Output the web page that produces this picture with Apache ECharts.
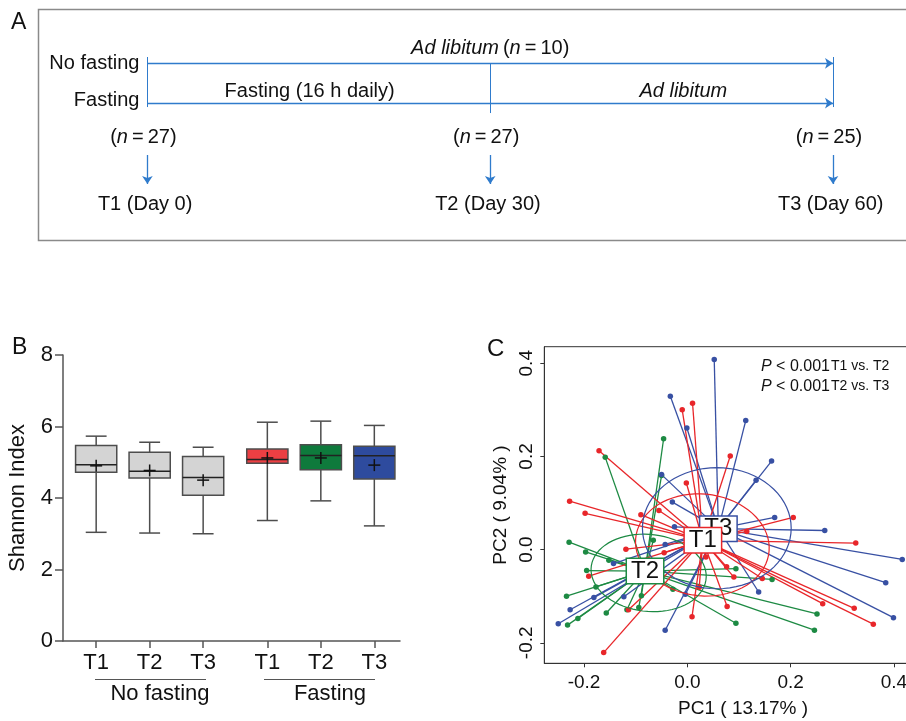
<!DOCTYPE html>
<html>
<head>
<meta charset="utf-8">
<script src="https://cdn.jsdelivr.net/npm/echarts@6/dist/echarts.min.js"></script>
<style>
html, body { margin: 0; padding: 0; background: #fff; }
#chart { width: 906px; height: 721px; }
</style>
</head>
<body>
<div id="chart"></div>
<script>
// panel A - study design timeline
const days = [0, 30, 60]
const timeLabels = ['T1 (Day 0)', 'T2 (Day 30)', 'T3 (Day 60)']
const sampleSizes = [27, 27, 25]
const noFastingN = 10

// panel B - Shannon index per group / timepoint
const boxTimes = ['T1', 'T2', 'T3', 'T1', 'T2', 'T3']
const boxX = [1, 2, 3, 4.2, 5.2, 6.2]
const shannonMin = [3.04, 3.02, 3.00, 3.37, 3.92, 3.22]
const shannonQ1 = [4.72, 4.56, 4.08, 4.97, 4.79, 4.53]
const shannonMedian = [4.93, 4.75, 4.57, 5.08, 5.19, 5.18]
const shannonQ3 = [5.47, 5.28, 5.16, 5.37, 5.49, 5.45]
const shannonMax = [5.73, 5.56, 5.42, 6.12, 6.15, 6.03]
const shannonMean = [4.90, 4.77, 4.50, 5.12, 5.12, 4.92]
const boxColors = ['#d4d4d4', '#d4d4d4', '#d4d4d4', '#ec3f43', '#0e7a3c', '#2e4b9e']

// panel C - PCA (PC1, PC2) per timepoint
const pcaT1 = [
  [0.010, 0.314], [-0.010, 0.300], [-0.171, 0.212], [0.083, 0.201], [-0.002, 0.143],
  [-0.228, 0.104], [-0.198, 0.078], [-0.090, 0.075], [-0.055, 0.084], [0.205, 0.069],
  [0.115, 0.039], [0.326, 0.014], [-0.119, 0.001], [-0.045, -0.007], [-0.191, -0.057],
  [0.090, -0.059], [0.076, -0.037], [0.023, -0.081], [0.077, -0.122], [0.009, -0.144],
  [0.262, -0.116], [0.323, -0.126], [0.360, -0.160], [-0.162, -0.221], [-0.114, -0.129],
  [0.145, -0.062], [0.036, -0.016]
]
const pcaT2 = [
  [-0.046, 0.238], [-0.159, 0.198], [-0.050, 0.159], [-0.229, 0.016], [-0.197, -0.005],
  [-0.152, -0.023], [-0.195, -0.045], [-0.177, -0.080], [-0.234, -0.100], [-0.157, -0.136],
  [-0.212, -0.148], [-0.232, -0.162], [-0.117, -0.129], [-0.094, -0.124], [-0.089, -0.099],
  [-0.028, -0.085], [0.094, -0.041], [0.164, -0.064], [0.251, -0.138], [0.246, -0.173],
  [0.094, -0.158], [-0.066, 0.020]
]
const pcaT3 = [
  [0.052, 0.408], [-0.033, 0.329], [-0.001, 0.261], [0.113, 0.277], [0.163, 0.190],
  [0.133, 0.149], [-0.050, 0.161], [-0.029, 0.102], [-0.025, 0.049], [0.169, 0.069],
  [0.266, 0.041], [0.416, -0.021], [0.384, -0.071], [0.399, -0.146], [0.138, -0.091],
  [-0.004, -0.096], [-0.043, -0.173], [-0.123, -0.101], [-0.143, -0.030], [-0.227, -0.129],
  [-0.250, -0.159], [-0.181, -0.103], [-0.043, 0.011]
]
const pcaNames = ['T1', 'T2', 'T3']
const pcaCentroids = [[0.030, 0.020], [-0.082, -0.046], [0.060, 0.045]]
// ellipse: centre x, centre y, radius x, radius y, angle (deg)
const pcaEllipses = [
  [0.029, 0.010, 0.130, 0.109, -10],
  [-0.075, -0.050, 0.112, 0.0825, -8],
  [0.057, 0.046, 0.144, 0.130, 0]
]
const pcaColors = ['#e8262a', '#1d8a43', '#3850a3']

const FONT = 'Liberation Sans, Arial, sans-serif'
const chart = echarts.init(document.getElementById('chart'))

const series = []

// ---------- panel A ----------
const rowLine1 = 2.64, rowLine2 = 4.3
series.push({
  type: 'lines', coordinateSystem: 'cartesian2d', xAxisIndex: 0, yAxisIndex: 0,
  symbol: ['none', 'arrow'], symbolSize: 8,
  lineStyle: { color: '#2f7bcc', width: 1.3, opacity: 1 },
  data: [
    { coords: [[days[0], rowLine1], [days[2], rowLine1]] },
    { coords: [[days[0], rowLine2], [days[2], rowLine2]] }
  ].concat(days.map(d => ({ coords: [[d, 6.46], [d, 7.67]] })))
})
series.push({
  type: 'lines', coordinateSystem: 'cartesian2d', xAxisIndex: 0, yAxisIndex: 0,
  lineStyle: { color: '#2f7bcc', width: 1, opacity: 1 },
  data: [
    { coords: [[days[0], 2.375], [days[0], 4.46]] },
    { coords: [[days[1], rowLine1], [days[1], 4.71]] },
    { coords: [[days[2], 2.375], [days[2], 4.46]] }
  ]
})
const textA = [
  { value: [-0.7, rowLine1], t: 'No fasting', align: 'right' },
  { value: [-0.7, 4.18], t: 'Fasting', align: 'right' },
  { value: [days[1], 2.0], t: '{i|Ad libitum}\u2009({i|n}\u2009=\u2009' + noFastingN + ')' },
  { value: [14.2, 3.83], t: 'Fasting (16 h daily)' },
  { value: [46.9, 3.83], t: '{i|Ad libitum}' }
]
days.forEach((d, i) => {
  textA.push({ value: [d - 0.35, 5.71], t: '({i|n}\u2009=\u2009' + sampleSizes[i] + ')' })
  textA.push({ value: [d - 0.2, 8.54], t: timeLabels[i] })
})
series.push({
  type: 'scatter', xAxisIndex: 0, yAxisIndex: 0, symbolSize: 0, clip: false,
  itemStyle: { opacity: 1 },
  data: textA.map(o => ({
    value: o.value,
    label: {
      show: true, position: 'inside', align: o.align || 'center', verticalAlign: 'middle',
      formatter: o.t, fontSize: 20, fontFamily: FONT, color: '#111',
      rich: { i: { fontStyle: 'italic', fontSize: 20, fontFamily: FONT, color: '#111' } }
    }
  }))
})

// ---------- panel B ----------
series.push({
  type: 'custom', xAxisIndex: 1, yAxisIndex: 1, clip: false,
  data: boxX.map((x, i) => [x, shannonMin[i], shannonQ1[i], shannonMedian[i], shannonQ3[i], shannonMax[i], shannonMean[i], i]),
  renderItem: function (params, api) {
    const x = api.value(0)
    const p = k => api.coord([x, api.value(k)])
    const pMin = p(1), pQ1 = p(2), pMed = p(3), pQ3 = p(4), pMax = p(5), pMean = p(6)
    const half = api.size([0.77, 0])[0] / 2
    const cap = api.size([0.39, 0])[0] / 2
    const cx = pMin[0]
    const stroke = { stroke: '#4d4d4d', lineWidth: 1.5 }
    const ln = (x1, y1, x2, y2, st) => ({ type: 'line', shape: { x1, y1, x2, y2 }, style: st || stroke })
    return {
      type: 'group',
      children: [
        ln(cx, pMin[1], cx, pQ1[1]),
        ln(cx, pQ3[1], cx, pMax[1]),
        ln(cx - cap, pMin[1], cx + cap, pMin[1]),
        ln(cx - cap, pMax[1], cx + cap, pMax[1]),
        { type: 'rect', shape: { x: cx - half, y: pQ3[1], width: half * 2, height: pQ1[1] - pQ3[1] },
          style: { fill: boxColors[api.value(7)], stroke: '#4d4d4d', lineWidth: 1.5 } },
        ln(cx - half, pMed[1], cx + half, pMed[1], { stroke: '#222', lineWidth: 1.5 }),
        ln(cx - 6, pMean[1], cx + 6, pMean[1], { stroke: '#111', lineWidth: 1.5 }),
        ln(cx, pMean[1] - 6, cx, pMean[1] + 6, { stroke: '#111', lineWidth: 1.5 })
      ]
    }
  }
})

// ---------- panel C ----------
const pcaSets = [pcaT1, pcaT2, pcaT3]
;[1, 2, 0].forEach(g => {
  series.push({
    type: 'lines', coordinateSystem: 'cartesian2d', xAxisIndex: 2, yAxisIndex: 2, z: 2,
    lineStyle: { color: pcaColors[g], width: 1.3, opacity: 1 },
    data: pcaSets[g].map(pt => ({ coords: [pcaCentroids[g], pt] }))
  })
})
;[1, 2, 0].forEach(g => {
  series.push({
    type: 'scatter', xAxisIndex: 2, yAxisIndex: 2, z: 3, symbolSize: 5.5,
    itemStyle: { color: pcaColors[g], opacity: 1 },
    data: pcaSets[g]
  })
})
series.push({
  type: 'custom', xAxisIndex: 2, yAxisIndex: 2, z: 4,
  data: pcaEllipses.map((e, i) => e.concat([i])),
  renderItem: function (params, api) {
    const cx = api.value(0), cy = api.value(1), rx = api.value(2), ry = api.value(3)
    const a = api.value(4) * Math.PI / 180
    const pts = []
    for (let k = 0; k < 72; k++) {
      const t = k / 72 * Math.PI * 2
      const dx = rx * Math.cos(t), dy = ry * Math.sin(t)
      pts.push(api.coord([cx + dx * Math.cos(a) - dy * Math.sin(a), cy + dx * Math.sin(a) + dy * Math.cos(a)]))
    }
    return { type: 'polygon', shape: { points: pts }, style: { fill: 'none', stroke: pcaColors[api.value(5)], lineWidth: 1.2 } }
  }
})
;[2, 0, 1].forEach((g, k) => {
  series.push({
    type: 'scatter', xAxisIndex: 2, yAxisIndex: 2, z: 10 + k, symbolSize: 0,
    itemStyle: { opacity: 1 },
    data: [{ value: pcaCentroids[g], name: pcaNames[g] }],
    label: {
      show: true, position: 'inside', formatter: '{b}', fontSize: 24, fontFamily: FONT, color: '#111',
      backgroundColor: '#fff', borderColor: pcaColors[g], borderWidth: 1.5, padding: [0, 4], lineHeight: 24
    }
  })
})

const option = {
  animation: false,
  backgroundColor: '#fff',
  grid: [
    { left: 147.4 - 12 * 11.427, top: 0, width: 78 * 11.427, height: 240, outerBoundsMode: 'none' },
    { left: 63, top: 355, width: 337, height: 286, outerBoundsMode: 'none' },
    { left: 544.3, top: 346.7, width: 375.5, height: 316.6, outerBoundsMode: 'none', show: true, borderColor: '#333', borderWidth: 1 }
  ],
  xAxis: [
    { gridIndex: 0, type: 'value', min: -12, max: 66, show: false },
    {
      gridIndex: 1, type: 'value', min: 0.38, max: 6.68,
      axisLine: { onZero: false, lineStyle: { color: '#555', width: 1.5 } },
      axisTick: { customValues: boxX, length: 7, lineStyle: { color: '#555', width: 1.5 } },
      axisLabel: {
        customValues: boxX, margin: 11, fontSize: 22, fontFamily: FONT, color: '#111',
        formatter: v => boxTimes[boxX.findIndex(b => Math.abs(b - v) < 0.01)] || ''
      },
      splitLine: { show: false }
    },
    {
      gridIndex: 2, type: 'value', min: -0.277, max: 0.45,
      axisLine: { onZero: false, lineStyle: { color: '#333' } },
      axisTick: { customValues: [-0.2, 0, 0.2, 0.4], length: 4, lineStyle: { color: '#333' } },
      axisLabel: {
        customValues: [-0.2, 0, 0.2, 0.4], margin: 10, fontSize: 19, fontFamily: FONT, color: '#111',
        formatter: v => v.toFixed(1)
      },
      splitLine: { show: false },
      name: 'PC1 ( 13.17% )', nameLocation: 'middle', nameGap: 36,
      nameTextStyle: { fontSize: 19, fontFamily: FONT, color: '#111', padding: [0, 0, 0, 22] }
    }
  ],
  yAxis: [
    { gridIndex: 0, type: 'value', min: 0, max: 10, inverse: true, show: false },
    {
      gridIndex: 1, type: 'value', min: 0, max: 8, interval: 2,
      axisLine: { show: true, onZero: false, lineStyle: { color: '#555', width: 1.5 } },
      axisTick: { show: true, length: 8, lineStyle: { color: '#555', width: 1.5 } },
      axisLabel: { margin: 10, fontSize: 22, fontFamily: FONT, color: '#111' },
      splitLine: { show: false },
      name: 'Shannon Index', nameLocation: 'middle', nameGap: 34,
      nameTextStyle: { fontSize: 22, fontFamily: FONT, color: '#111' }
    },
    {
      gridIndex: 2, type: 'value', min: -0.244, max: 0.4355,
      axisLine: { show: true, onZero: false, lineStyle: { color: '#333' } },
      axisTick: { show: true, customValues: [-0.2, 0, 0.2, 0.4], length: 4, lineStyle: { color: '#333' } },
      axisLabel: {
        customValues: [-0.2, 0, 0.2, 0.4], rotate: 90, margin: 8, fontSize: 19, fontFamily: FONT, color: '#111',
        formatter: v => v.toFixed(1)
      },
      splitLine: { show: false },
      name: 'PC2 ( 9.04% )', nameLocation: 'middle', nameGap: 34,
      nameTextStyle: { fontSize: 19, fontFamily: FONT, color: '#111' }
    }
  ],
  graphic: [
    { type: 'rect', shape: { x: 38.5, y: 9.5, width: 900, height: 231 }, style: { fill: 'none', stroke: '#8a8a8a', lineWidth: 1.5 } },
    { type: 'text', left: 11, top: 11, style: { text: 'A', fontSize: 23, fontFamily: FONT, fill: '#111' } },
    { type: 'text', left: 12, top: 336, style: { text: 'B', fontSize: 23, fontFamily: FONT, fill: '#111' } },
    { type: 'text', left: 487, top: 337, style: { text: 'C', fontSize: 24, fontFamily: FONT, fill: '#111' } },
    { type: 'line', shape: { x1: 95, y1: 679.5, x2: 206, y2: 679.5 }, style: { stroke: '#555', lineWidth: 1.2 } },
    { type: 'line', shape: { x1: 264, y1: 679.5, x2: 375, y2: 679.5 }, style: { stroke: '#555', lineWidth: 1.2 } },
    { type: 'text', x: 160, y: 694, style: { text: 'No fasting', fontSize: 22, fontFamily: FONT, fill: '#111', align: 'center', verticalAlign: 'middle' } },
    { type: 'text', x: 330, y: 694, style: { text: 'Fasting', fontSize: 22, fontFamily: FONT, fill: '#111', align: 'center', verticalAlign: 'middle' } },
    { type: 'text', x: 761, y: 359, z: 20, style: { text: '{i|P} < 0.001', fontSize: 16, fontFamily: FONT, fill: '#111', rich: { i: { fontStyle: 'italic', fontSize: 16, fontFamily: FONT } } } },
    { type: 'text', x: 831, y: 359, z: 20, style: { text: 'T1 vs. T2', fontSize: 14, fontFamily: FONT, fill: '#111' } },
    { type: 'text', x: 761, y: 379, z: 20, style: { text: '{i|P} < 0.001', fontSize: 16, fontFamily: FONT, fill: '#111', rich: { i: { fontStyle: 'italic', fontSize: 16, fontFamily: FONT } } } },
    { type: 'text', x: 831, y: 379, z: 20, style: { text: 'T2 vs. T3', fontSize: 14, fontFamily: FONT, fill: '#111' } }
  ],
  series: series
}
chart.setOption(option)
</script>
</body>
</html>
